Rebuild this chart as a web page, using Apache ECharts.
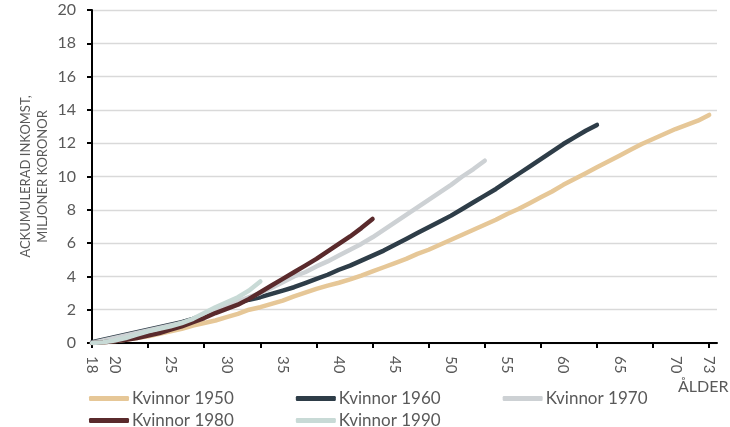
<!DOCTYPE html>
<html>
<head>
<meta charset="utf-8">
<script src="https://cdn.jsdelivr.net/npm/echarts@6/dist/echarts.min.js"></script>
<style>html,body{margin:0;padding:0;background:#fff}#c{width:730px;height:427px}</style>
</head>
<body>
<div id="c"></div>
<script>
var startAge = 18;
var names = ['Kvinnor 1950', 'Kvinnor 1960', 'Kvinnor 1970', 'Kvinnor 1980', 'Kvinnor 1990'];
var kvinnor1950 = [0.0,0.05,0.12,0.2,0.3,0.4,0.55,0.7,0.85,1.05,1.2,1.35,1.55,1.75,2.0,2.15,2.35,2.55,2.8,3.02,3.25,3.45,3.62,3.82,4.05,4.3,4.55,4.8,5.05,5.35,5.6,5.9,6.2,6.5,6.8,7.1,7.4,7.75,8.05,8.4,8.75,9.1,9.5,9.85,10.2,10.55,10.9,11.25,11.6,11.95,12.25,12.55,12.85,13.1,13.35,13.7];
var kvinnor1960 = [0.05,0.2,0.35,0.5,0.65,0.8,0.95,1.1,1.25,1.45,1.7,1.95,2.2,2.4,2.6,2.75,2.95,3.15,3.35,3.6,3.85,4.1,4.4,4.65,4.95,5.25,5.55,5.9,6.25,6.6,6.95,7.3,7.65,8.05,8.45,8.85,9.25,9.7,10.15,10.6,11.05,11.5,11.95,12.35,12.75,13.1];
var kvinnor1970 = [0.0,0.15,0.3,0.45,0.6,0.75,0.9,1.05,1.2,1.4,1.65,1.95,2.25,2.5,2.75,3.0,3.3,3.65,4.0,4.25,4.6,4.9,5.25,5.6,5.95,6.35,6.8,7.25,7.7,8.15,8.6,9.05,9.5,10.0,10.45,10.95];
var kvinnor1980 = [0.0,0.05,0.1,0.2,0.3,0.45,0.6,0.8,1.0,1.25,1.5,1.8,2.05,2.3,2.65,3.05,3.45,3.85,4.25,4.65,5.05,5.5,5.95,6.4,6.9,7.45];
var kvinnor1990 = [0.0,0.05,0.15,0.3,0.5,0.7,0.85,1.0,1.2,1.45,1.8,2.15,2.45,2.75,3.15,3.7];
var xLabelValues = [18,20,25,30,35,40,45,50,55,60,65,70,73];
var xTickValues = [18,23,28,33,38,43,48,53,58,63,68,73];
var yTicks = [0,2,4,6,8,10,12,14,16,18,20];
var colors = ['#E6C797', '#2E3D48', '#CDD1D4', '#5A2A2C', '#C8DAD6'];

function pairs(arr) { return arr.map(function (v, i) { return [startAge + i, v]; }); }
var allData = [kvinnor1950, kvinnor1960, kvinnor1970, kvinnor1980, kvinnor1990];

var txt = '#595959';
var font = 'Lato';
var legendText = { color: txt, fontSize: 17, fontFamily: font, padding: [0, 0, 0, -2] };
var chart = echarts.init(document.getElementById('c'));
chart.setOption({
  animation: false,
  color: colors,
  textStyle: { fontFamily: font },
  grid: { left: 92, right: 13, top: 10, bottom: 84, containLabel: false, outerBoundsMode: 'none' },
  legend: [
    { data: names.slice(0, 3), left: 84, top: 385, itemWidth: 40, itemHeight: 5, itemGap: 62, icon: 'roundRect', textStyle: legendText },
    { data: names.slice(3), left: 84, top: 407, itemWidth: 40, itemHeight: 5, itemGap: 62, icon: 'roundRect', textStyle: legendText }
  ],
  xAxis: {
    type: 'value', min: 18, max: 73.7,
    axisLine: { show: true, lineStyle: { color: '#000', width: 2 } },
    axisTick: { show: true, customValues: xTickValues, length: 5, lineStyle: { color: '#000', width: 2 } },
    axisLabel: { customValues: xLabelValues, rotate: -90, margin: 13, color: txt, fontSize: 15, fontFamily: font },
    splitLine: { show: false }
  },
  yAxis: {
    type: 'value', min: 0, max: 20, interval: 2,
    name: 'ACKUMULERAD INKOMST,\nMILJONER KORONOR',
    nameLocation: 'middle', nameRotate: 90, nameGap: 41, nameMoveOverlap: false,
    nameTextStyle: { color: txt, fontSize: 13, fontFamily: font, lineHeight: 17 },
    axisLine: { show: true, lineStyle: { color: '#000', width: 2 } },
    axisTick: { show: true, length: 5, lineStyle: { color: '#000', width: 2 } },
    axisLabel: { color: txt, fontSize: 16, margin: 16, fontFamily: font, customValues: yTicks },
    splitLine: { show: true, lineStyle: { color: '#D9D9D9', width: 1.3 } }
  },
  graphic: [
    { type: 'text', left: 678, top: 379, style: { text: 'ÅLDER', fill: txt, fontSize: 16, fontFamily: font } }
  ],
  series: allData.map(function (arr, i) {
    return {
      name: names[i], type: 'line', data: pairs(arr), showSymbol: false, symbol: 'none',
      lineStyle: { width: 4.5, cap: 'round', join: 'round', color: colors[i] },
      itemStyle: { color: colors[i] }, z: 2 + i
    };
  })
});
</script>
</body>
</html>
